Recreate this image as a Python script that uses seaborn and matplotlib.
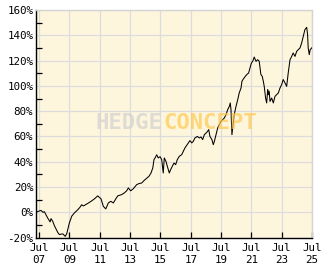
import matplotlib
matplotlib.use("Agg")
import matplotlib.pyplot as plt
import seaborn as sns
import pandas as pd
from matplotlib.ticker import MultipleLocator, FixedLocator

# ---- data (decimal year, performance in %) ----
years = [
    2007.30, 2007.50, 2007.63, 2007.76, 2007.85, 2008.07, 2008.23, 2008.29, 2008.40, 2008.51,
    2008.73, 2008.84, 2009.06, 2009.23, 2009.33, 2009.50, 2009.66, 2009.83, 2010.05, 2010.20,
    2010.31, 2010.42, 2010.71, 2010.93, 2011.15, 2011.37, 2011.59, 2011.74, 2011.90, 2012.07,
    2012.23, 2012.40, 2012.56, 2012.69, 2012.95, 2013.12, 2013.28, 2013.39, 2013.54, 2013.72,
    2013.94, 2014.09, 2014.27, 2014.44, 2014.60, 2014.75, 2014.88, 2015.00, 2015.08, 2015.15,
    2015.26, 2015.36, 2015.48, 2015.59, 2015.69, 2015.76, 2015.87, 2015.96, 2016.09, 2016.18,
    2016.29, 2016.40, 2016.51, 2016.62, 2016.75, 2016.91, 2017.01, 2017.12, 2017.24, 2017.34,
    2017.45, 2017.57, 2017.67, 2017.78, 2017.94, 2018.07, 2018.18, 2018.29, 2018.40, 2018.56,
    2018.69, 2018.77, 2018.90, 2018.99, 2019.06, 2019.17, 2019.28, 2019.39, 2019.50, 2019.61,
    2019.72, 2019.83, 2019.94, 2020.05, 2020.11, 2020.16, 2020.22, 2020.31, 2020.37, 2020.49,
    2020.60, 2020.70, 2020.82, 2020.88, 2020.97, 2021.10, 2021.19, 2021.32, 2021.41, 2021.50,
    2021.59, 2021.69, 2021.81, 2021.92, 2022.02, 2022.13, 2022.22, 2022.29, 2022.35, 2022.44,
    2022.51, 2022.58, 2022.62, 2022.68, 2022.73, 2022.84, 2022.95, 2023.06, 2023.17, 2023.28,
    2023.39, 2023.50, 2023.60, 2023.72, 2023.83, 2023.93, 2024.05, 2024.16, 2024.26, 2024.38,
    2024.49, 2024.59, 2024.71, 2024.82, 2024.92, 2025.03, 2025.15, 2025.21, 2025.25, 2025.32,
    2025.38, 2025.48, 2025.52,
]
perf = [
    0.0, 1.0, 1.5, 0.0, 0.5, -4.5, -7.6, -5.0, -7.0, -10.5,
    -15.8, -17.6, -17.0, -19.0, -16.8, -8.4, -3.0, -0.5, 2.0, 4.0,
    6.0, 5.0, 7.0, 8.7, 10.6, 13.0, 10.6, 4.7, 2.7, 7.4,
    8.7, 7.4, 10.6, 13.0, 14.0, 15.3, 17.0, 19.3, 17.0, 18.7,
    21.9, 22.7, 23.2, 25.3, 27.0, 28.5, 31.0, 35.0, 41.7, 43.0,
    45.5, 43.0, 44.0, 41.7, 31.1, 43.0, 40.3, 36.4, 31.1, 33.8,
    36.4, 39.0, 37.7, 41.7, 44.3, 45.6, 48.2, 50.9, 53.0, 54.9,
    56.7, 54.9, 56.1, 58.8, 60.0, 58.8, 59.6, 57.5, 61.4, 63.2,
    65.4, 60.0, 57.5, 53.5, 56.0, 61.4, 66.7, 69.3, 72.0, 73.3,
    74.6, 77.2, 81.2, 83.8, 86.5, 81.0, 61.4, 70.7, 77.2, 83.8,
    89.0, 94.4, 98.3, 103.6, 105.4, 107.5, 108.8, 110.2, 114.2, 118.0,
    119.4, 122.8, 119.4, 120.7, 119.4, 109.0, 107.5, 103.6, 99.6, 90.4,
    86.5, 97.0, 93.0, 95.7, 87.7, 90.4, 86.5, 91.7, 93.0, 94.4,
    98.3, 101.0, 105.0, 102.3, 99.6, 110.0, 120.7, 123.3, 126.0, 123.3,
    127.3, 128.6, 130.0, 134.0, 139.0, 144.4, 146.3, 140.5, 130.0, 124.7,
    128.6, 130.0, 130.4,
]
tick_years = [2007.5, 2009.5, 2011.5, 2013.5, 2015.5, 2017.5, 2019.5, 2021.5, 2023.5, 2025.5]
tick_labels = ["Jul\n07", "Jul\n09", "Jul\n11", "Jul\n13", "Jul\n15",
               "Jul\n17", "Jul\n19", "Jul\n21", "Jul\n23", "Jul\n25"]
y_ticks = [-20, 0, 20, 40, 60, 80, 100, 120, 140, 160]
y_labels = [f"{v}%" for v in y_ticks]

df = pd.DataFrame({"year": years, "perf": perf})

sns.set_style("white")
plt.rcParams["font.family"] = ["DejaVu Sans Mono"]

fig = plt.figure(figsize=(3.32, 2.69), dpi=100)
fig.patch.set_facecolor("white")
ax = fig.add_axes([36 / 332, 1 - 237.6 / 269, (312.3 - 36) / 332, (237.6 - 10) / 269])
ax.set_facecolor("#FEF6DC")

sns.lineplot(data=df, x="year", y="perf", ax=ax, color="black", linewidth=0.75, zorder=3)

ax.set_xlim(min(years), max(years))
ax.set_ylim(-20, 160)
ax.set_xlabel("")
ax.set_ylabel("")

ax.xaxis.set_major_locator(FixedLocator(tick_years))
ax.set_xticklabels(tick_labels)
ax.yaxis.set_major_locator(FixedLocator(y_ticks))
ax.set_yticklabels(y_labels)
ax.yaxis.set_minor_locator(MultipleLocator(10))

ax.grid(True, which="major", color="#DCDCDC", linewidth=0.9)
ax.set_axisbelow(True)

ax.tick_params(axis="both", which="both", direction="in", colors="black",
               labelsize=7.8, width=0.9)
ax.tick_params(axis="y", which="major", length=4, pad=2)
ax.tick_params(axis="y", which="minor", length=4, left=True)
ax.tick_params(axis="x", which="major", length=4, pad=4, bottom=True)
for lbl in ax.get_xticklabels():
    lbl.set_linespacing(1.25)

for side in ["left", "bottom"]:
    ax.spines[side].set_color("black")
    ax.spines[side].set_linewidth(1.0)
for side in ["top", "right"]:
    ax.spines[side].set_color("#D4D4D4")
    ax.spines[side].set_linewidth(1.0)

# watermark
split_x = 162.5 / 332
wm_y = 1 - 123 / 269
fig.text(split_x, wm_y, "HEDGE", ha="right", va="center", fontsize=16,
         fontweight="bold", color="#D2D2D2", alpha=0.75, zorder=10,
         family=["DejaVu Sans Mono"])
fig.text(split_x + 0.002, wm_y, "CONCEPT", ha="left", va="center", fontsize=16,
         fontweight="bold", color="#FFC850", alpha=0.7, zorder=10,
         family=["DejaVu Sans Mono"])

fig.savefig("out.png", dpi=100)
